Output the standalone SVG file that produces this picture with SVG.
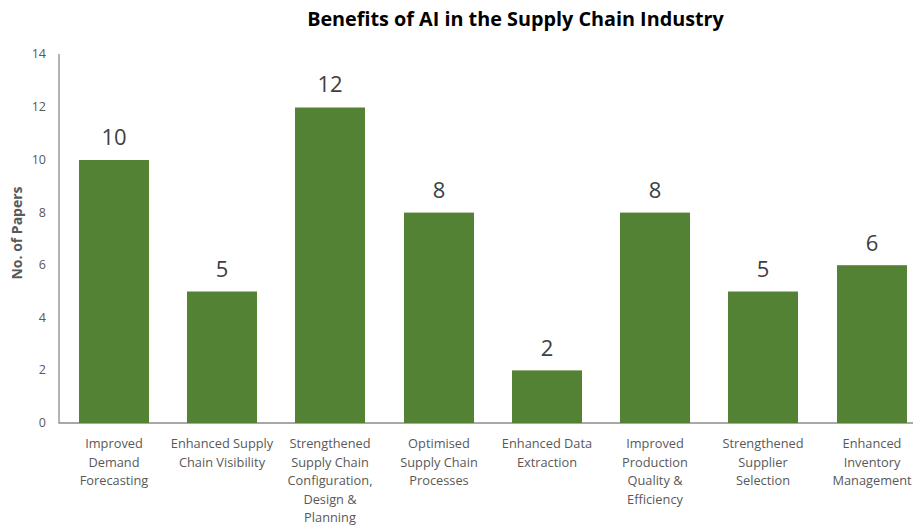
<svg xmlns="http://www.w3.org/2000/svg" width="913" height="526" viewBox="0 0 913 526">
<style>
.title{font-family:"Open Sans","Liberation Sans",sans-serif;font-weight:bold;font-size:19.8px;fill:#000;text-anchor:middle}
.tick{font-family:"Open Sans","Liberation Sans",sans-serif;font-size:12.5px;fill:#595959;text-anchor:end}
.ytitle{font-family:"Open Sans","Liberation Sans",sans-serif;font-weight:bold;font-size:14px;fill:#595959;text-anchor:middle}
.cat{font-family:"Open Sans","Liberation Sans",sans-serif;font-size:12.8px;fill:#595959;text-anchor:middle}
.val{font-family:"Open Sans","Liberation Sans",sans-serif;font-size:22px;fill:#404040;text-anchor:middle}
.bar{fill:#548235}
.axis{stroke:#8c8c8c;stroke-width:1.3;fill:none}
</style>
<rect width="913" height="526" fill="#fff"/>
<text class="title" x="515.5" y="26">Benefits of AI in the Supply Chain Industry</text>
<g id="yaxis">
<text class="tick" x="46" y="58">14</text>
<text class="tick" x="46" y="111">12</text>
<text class="tick" x="46" y="164">10</text>
<text class="tick" x="46" y="217">8</text>
<text class="tick" x="46" y="269">6</text>
<text class="tick" x="46" y="322">4</text>
<text class="tick" x="46" y="374">2</text>
<text class="tick" x="46" y="427">0</text>
<text class="ytitle" transform="translate(22,233) rotate(-90)">No. of Papers</text>
</g>
<g id="connectors">
<path class="axis" d="M59 54 V423 H913"/>
</g>
<g id="bar1"><rect class="bar" x="79" y="160" width="70" height="263"/><text class="val" x="114" y="145">10</text>
<text class="cat" x="114" y="448">Improved<tspan x="114" dy="18.5">Demand</tspan><tspan x="114" dy="18.5">Forecasting</tspan></text></g>
<g id="bar2"><rect class="bar" x="187" y="291.5" width="70" height="131.5"/><text class="val" x="222" y="277">5</text>
<text class="cat" x="222" y="448">Enhanced Supply<tspan x="222" dy="18.5">Chain Visibility</tspan></text></g>
<g id="bar3"><rect class="bar" x="295" y="107.5" width="70" height="315.5"/><text class="val" x="330" y="92">12</text>
<text class="cat" x="330" y="448">Strengthened<tspan x="330" dy="18.5">Supply Chain</tspan><tspan x="330" dy="18.5">Configuration,</tspan><tspan x="330" dy="18.5">Design &amp;</tspan><tspan x="330" dy="18.5">Planning</tspan></text></g>
<g id="bar4"><rect class="bar" x="404" y="212.6" width="70" height="210.4"/><text class="val" x="439" y="198">8</text>
<text class="cat" x="439" y="448">Optimised<tspan x="439" dy="18.5">Supply Chain</tspan><tspan x="439" dy="18.5">Processes</tspan></text></g>
<g id="bar5"><rect class="bar" x="512" y="370.4" width="70" height="52.6"/><text class="val" x="547" y="356">2</text>
<text class="cat" x="547" y="448">Enhanced Data<tspan x="547" dy="18.5">Extraction</tspan></text></g>
<g id="bar6"><rect class="bar" x="620" y="212.6" width="70" height="210.4"/><text class="val" x="655" y="198">8</text>
<text class="cat" x="655" y="448">Improved<tspan x="655" dy="18.5">Production</tspan><tspan x="655" dy="18.5">Quality &amp;</tspan><tspan x="655" dy="18.5">Efficiency</tspan></text></g>
<g id="bar7"><rect class="bar" x="728" y="291.5" width="70" height="131.5"/><text class="val" x="763" y="277">5</text>
<text class="cat" x="763" y="448">Strengthened<tspan x="763" dy="18.5">Supplier</tspan><tspan x="763" dy="18.5">Selection</tspan></text></g>
<g id="bar8"><rect class="bar" x="837" y="265.2" width="70" height="157.8"/><text class="val" x="872" y="251">6</text>
<text class="cat" x="872" y="448">Enhanced<tspan x="872" dy="18.5">Inventory</tspan><tspan x="872" dy="18.5">Management</tspan></text></g>
</svg>
